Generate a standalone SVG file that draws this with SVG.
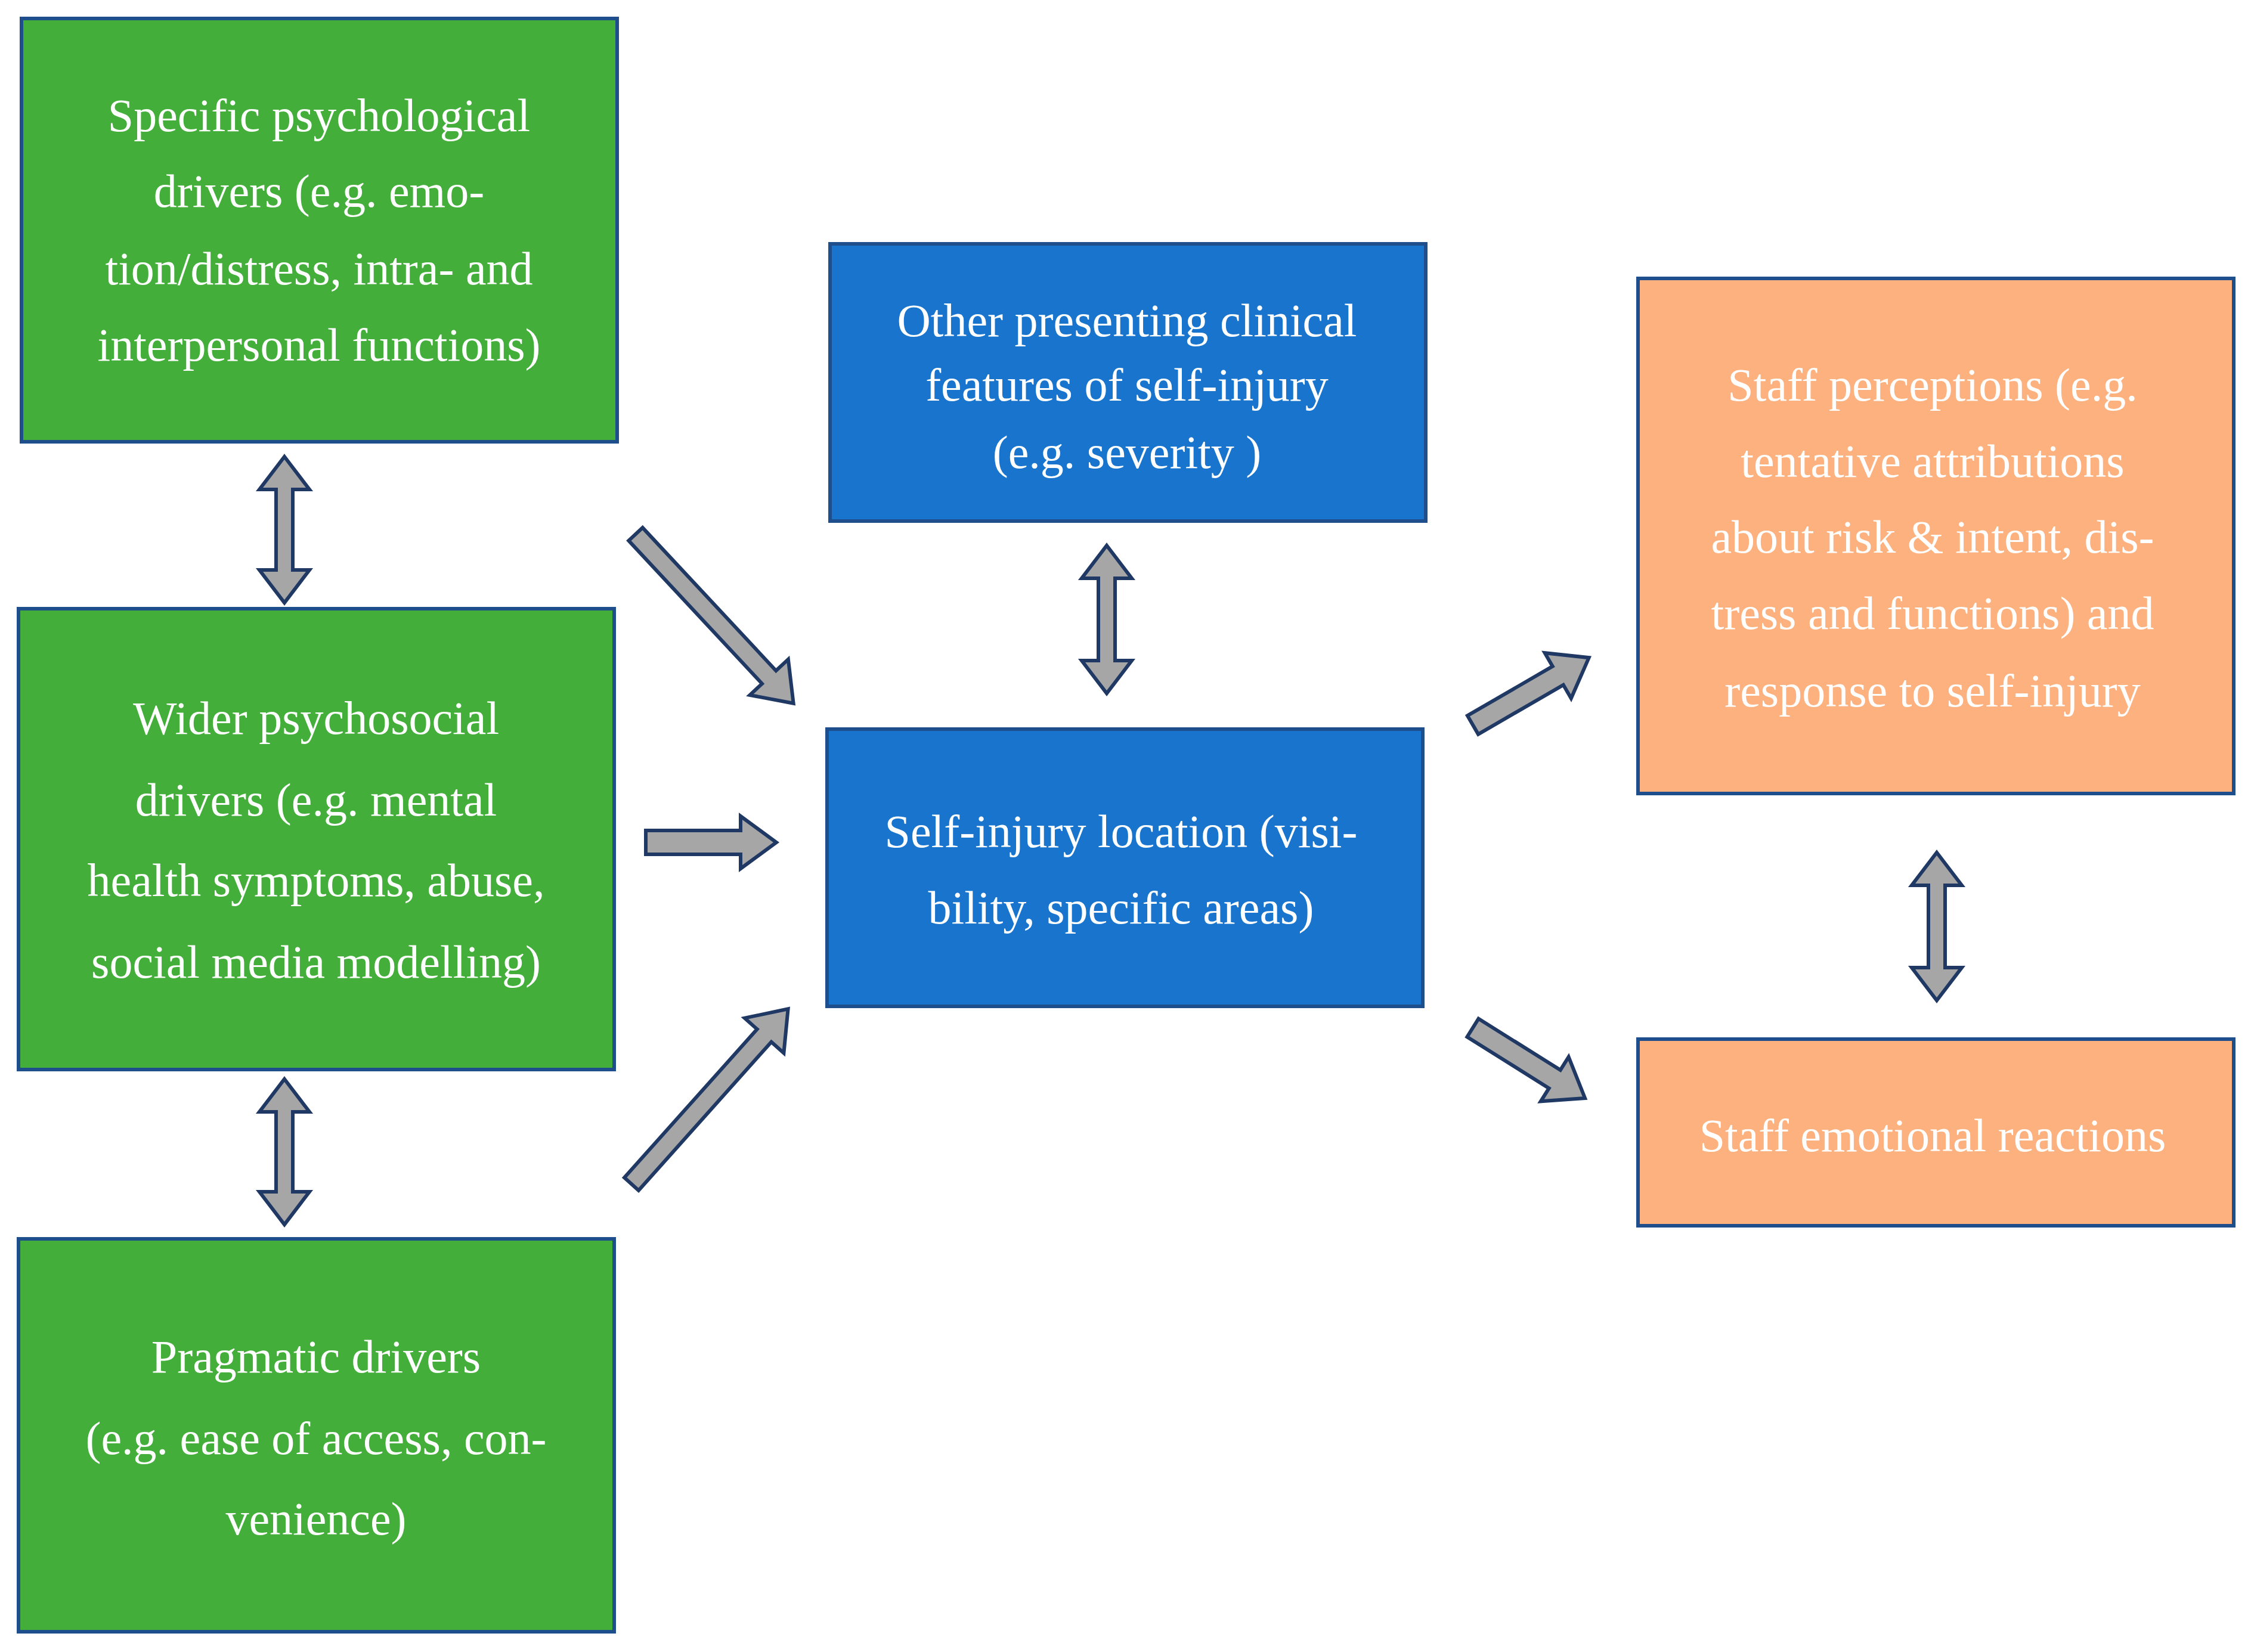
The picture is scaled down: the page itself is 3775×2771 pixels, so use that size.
<svg xmlns="http://www.w3.org/2000/svg" width="3775" height="2771" viewBox="0 0 3775 2771">
<style>
.g{fill:#43AE3A;stroke:#1F4E8C;stroke-width:6}
.b{fill:#1874CD;stroke:#1F4E8C;stroke-width:6}
.o{fill:#FDB17F;stroke:#1F4E8C;stroke-width:6}
text{font-family:"Liberation Serif",serif;font-size:78px;fill:#fff;text-anchor:middle;dominant-baseline:central}
.ar{fill:#A6A6A6;stroke:#1F3864;stroke-width:6;stroke-linejoin:miter}
</style>
<rect width="3775" height="2771" fill="#fff"/>
<g id="n1"><rect class="g" x="36" y="31" width="999" height="710"/>
<text x="535" y="193">Specific psychological</text><text x="535" y="320">drivers (e.g. emo-</text><text x="535" y="450">tion/distress, intra- and</text><text x="535" y="578">interpersonal functions)</text></g>
<g id="n2"><rect class="g" x="31" y="1021" width="999" height="773"/>
<text x="530" y="1204">Wider psychosocial</text><text x="530" y="1341">drivers (e.g. mental</text><text x="530" y="1476">health symptoms, abuse,</text><text x="530" y="1613">social media modelling)</text></g>
<g id="n3"><rect class="g" x="31" y="2078" width="999" height="659"/>
<text x="530" y="2275">Pragmatic drivers</text><text x="530" y="2412">(e.g. ease of access, con-</text><text x="530" y="2547">venience)</text></g>
<g id="n4"><rect class="b" x="1392" y="409" width="999" height="465"/>
<text x="1890" y="537">Other presenting clinical</text><text x="1890" y="645">features of self-injury</text><text x="1890" y="758">(e.g. severity )</text></g>
<g id="n5"><rect class="b" x="1387" y="1223" width="999" height="465"/>
<text x="1880" y="1394">Self-injury location (visi-</text><text x="1880" y="1522">bility, specific areas)</text></g>
<g id="n6"><rect class="o" x="2747" y="467" width="999" height="864"/>
<text x="3241" y="645">Staff perceptions (e.g.</text><text x="3241" y="773">tentative attributions</text><text x="3241" y="900">about risk &amp; intent, dis-</text><text x="3241" y="1028">tress and functions) and</text><text x="3241" y="1158">response to self-injury</text></g>
<g id="n7"><rect class="o" x="2747" y="1743" width="999" height="313"/>
<text x="3241" y="1904">Staff emotional reactions</text></g>
<g id="connectors">
<path class="ar" transform="translate(477,766) rotate(90)" d="M0,0 L55,-42 L55,-14 L190,-14 L190,-42 L245,0 L190,42 L190,14 L55,14 L55,42 Z"/>
<path class="ar" transform="translate(477,1810) rotate(90)" d="M0,0 L55,-42 L55,-14 L189,-14 L189,-42 L244,0 L189,42 L189,14 L55,14 L55,42 Z"/>
<path class="ar" transform="translate(1856,915) rotate(90)" d="M0,0 L55,-42 L55,-14 L193,-14 L193,-42 L248,0 L193,42 L193,14 L55,14 L55,42 Z"/>
<path class="ar" transform="translate(3248,1430) rotate(90)" d="M0,0 L55,-42 L55,-14 L193,-14 L193,-42 L248,0 L193,42 L193,14 L55,14 L55,42 Z"/>
<path class="ar" transform="translate(1066,896) rotate(47)" d="M0,-16 L328,-16 L328,-44 L388,0 L328,44 L328,16 L0,16 Z"/>
<path class="ar" transform="translate(1083,1413)" d="M0,-20 L159,-20 L159,-44 L219,0 L159,44 L159,20 L0,20 Z"/>
<path class="ar" transform="translate(1059,1986) rotate(-48.2)" d="M0,-16 L334,-16 L334,-44 L394,0 L334,44 L334,16 L0,16 Z"/>
<path class="ar" transform="translate(2470,1216) rotate(-30.1)" d="M0,-18 L165,-18 L165,-44 L225,0 L165,44 L165,18 L0,18 Z"/>
<path class="ar" transform="translate(2470,1724) rotate(32.1)" d="M0,-18 L162,-18 L162,-44 L222,0 L162,44 L162,18 L0,18 Z"/>
</g>
</svg>
